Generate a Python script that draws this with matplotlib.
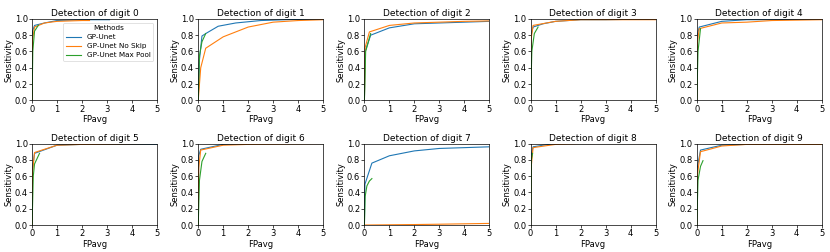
import matplotlib
matplotlib.use('Agg')
import matplotlib.pyplot as plt

methods = ['GP-Unet', 'GP-Unet No Skip', 'GP-Unet Max Pool']
colors = ['tab:blue', 'tab:orange', 'tab:green']

# (fp, sensitivity) per digit, per method
unet_x = [
    [0, 0.02, 0.1, 0.5, 1, 2, 3.1],
    [0, 0.05, 0.15, 0.3, 0.8, 1.5, 2.5, 3.5, 5],
    [0, 0.03, 0.25, 1, 2, 3, 4, 5],
    [0, 0.02, 0.1, 0.5, 1, 2, 3, 5],
    [0, 0.02, 0.1, 1, 2, 3, 5],
    [0, 0.02, 0.1, 1, 2, 5],
    [0, 0.02, 0.1, 1, 2, 5],
    [0, 0.02, 0.3, 1, 2, 3, 4, 5],
    [0, 0.02, 0.1, 0.5, 1, 5],
    [0, 0.02, 0.15, 1, 2, 5],
]
unet_y = [
    [0, 0.85, 0.92, 0.95, 0.98, 0.99, 0.99],
    [0, 0.5, 0.79, 0.82, 0.91, 0.95, 0.98, 0.99, 1.0],
    [0, 0.6, 0.80, 0.89, 0.94, 0.95, 0.96, 0.97],
    [0, 0.8, 0.90, 0.94, 0.97, 0.99, 0.99, 1.0],
    [0, 0.8, 0.90, 0.97, 0.99, 0.99, 1.0],
    [0, 0.7, 0.88, 0.98, 0.99, 0.99],
    [0, 0.85, 0.93, 0.99, 1.0, 1.0],
    [0, 0.5, 0.76, 0.85, 0.91, 0.94, 0.95, 0.96],
    [0, 0.85, 0.96, 0.98, 1.0, 1.0],
    [0, 0.7, 0.92, 0.98, 0.99, 1.0],
]
noskip_x = [
    [0, 0.02, 0.1, 0.5, 1, 2, 2.3],
    [0, 0.1, 0.3, 1, 2, 3, 4, 5],
    [0, 0.03, 0.2, 1, 2, 3, 4, 5],
    [0, 0.02, 0.1, 1, 2, 5],
    [0, 0.02, 0.1, 1, 2, 3, 5],
    [0, 0.02, 0.1, 1, 2, 5],
    [0, 0.02, 0.1, 1, 2, 5],
    [0, 1, 2, 3, 4, 5],
    [0, 0.02, 0.1, 1, 2, 5],
    [0, 0.02, 0.15, 1, 2, 5],
]
noskip_y = [
    [0, 0.75, 0.90, 0.95, 0.97, 0.98, 0.98],
    [0, 0.4, 0.64, 0.78, 0.90, 0.96, 0.98, 0.99],
    [0, 0.65, 0.84, 0.92, 0.95, 0.96, 0.97, 0.975],
    [0, 0.75, 0.92, 0.97, 0.99, 0.99],
    [0, 0.7, 0.88, 0.95, 0.96, 0.98, 0.99],
    [0, 0.65, 0.89, 0.98, 0.99, 1.0],
    [0, 0.7, 0.92, 0.98, 0.99, 1.0],
    [0, 0.003, 0.006, 0.01, 0.015, 0.02],
    [0, 0.7, 0.95, 0.99, 1.0, 1.0],
    [0, 0.6, 0.90, 0.97, 0.99, 0.99],
]
maxpool_x = [
    [0, 0.03, 0.1, 0.25],
    [0, 0.05, 0.15, 0.3],
    [0, 0.05, 0.25],
    [0, 0.05, 0.15, 0.3],
    [0, 0.05, 0.15],
    [0, 0.05, 0.1, 0.3],
    [0, 0.05, 0.15, 0.3],
    [0, 0.03, 0.1, 0.2, 0.3],
    [0, 0.03, 0.08],
    [0, 0.05, 0.15, 0.25],
]
maxpool_y = [
    [0, 0.6, 0.85, 0.92],
    [0, 0.55, 0.72, 0.82],
    [0, 0.6, 0.82],
    [0, 0.6, 0.82, 0.9],
    [0, 0.6, 0.88],
    [0, 0.6, 0.75, 0.88],
    [0, 0.55, 0.78, 0.88],
    [0, 0.35, 0.48, 0.54, 0.57],
    [0, 0.8, 0.88],
    [0, 0.55, 0.72, 0.79],
]
xticks = [0, 1, 2, 3, 4, 5]
yticks = [0.0, 0.2, 0.4, 0.6, 0.8, 1.0]

fs = 6
fig, axes = plt.subplots(2, 5, figsize=(8.3, 2.52), dpi=100)
plt.subplots_adjust(left=0.0386, right=0.99, top=0.925, bottom=0.107, wspace=0.33, hspace=0.53)

for d, ax in enumerate(axes.flat):
    series = [(unet_x[d], unet_y[d]), (noskip_x[d], noskip_y[d]), (maxpool_x[d], maxpool_y[d])]
    for (xs, ys), c, m in zip(series, colors, methods):
        ax.plot(xs, ys, color=c, lw=0.8, label=m)
    ax.set_xlim(0, 5)
    ax.set_ylim(0, 1)
    ax.set_xticks(xticks)
    ax.set_yticks(yticks)
    ax.set_title('Detection of digit {}'.format(d), fontsize=6.5, pad=2)
    ax.set_xlabel('FPavg', fontsize=fs, labelpad=1)
    ax.set_ylabel('Sensitivity', fontsize=fs, labelpad=1)
    ax.tick_params(labelsize=fs, length=2, width=0.5, pad=1)
    for s in ax.spines.values():
        s.set_linewidth(0.5)

leg = axes[0, 0].legend(title='Methods', fontsize=5.2, title_fontsize=5.2, loc='upper right',
                        handlelength=2, borderpad=0.4, labelspacing=0.4)
leg.get_frame().set_linewidth(0.5)

plt.savefig('out.png')
